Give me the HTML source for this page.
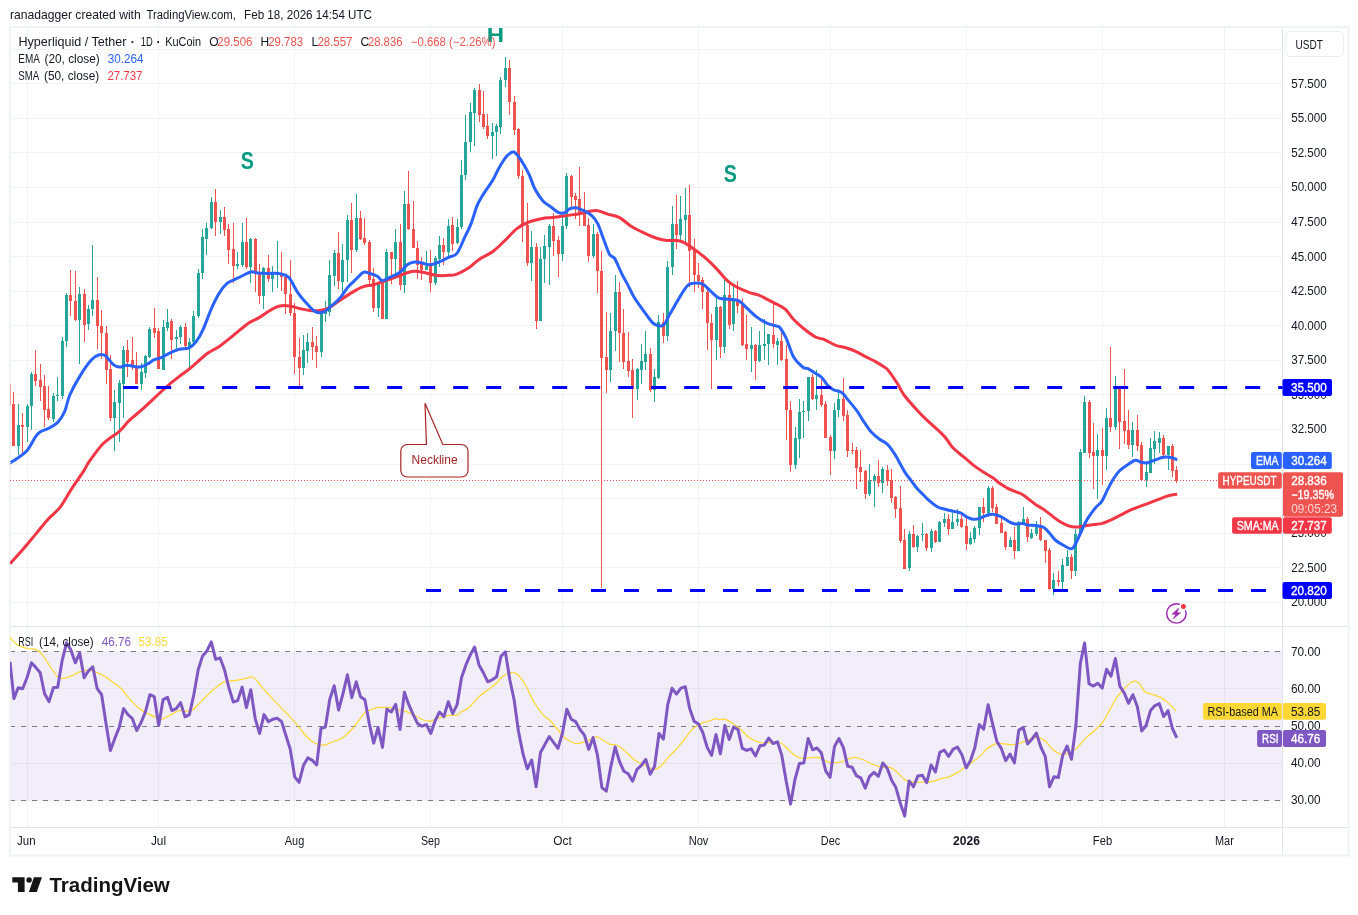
<!DOCTYPE html>
<html lang="en"><head><meta charset="utf-8"><title>HYPEUSDT chart</title><style>html,body{margin:0;padding:0;background:#fff}svg{display:block}</style></head><body>
<svg width="1358" height="915" viewBox="0 0 1358 915" font-family="'Liberation Sans', sans-serif" font-size="12" fill="#131722">
<rect width="1358" height="915" fill="#fff"/>
<defs><clipPath id="cm"><rect x="10" y="27" width="1272.5" height="599.5"/></clipPath><clipPath id="cr"><rect x="10" y="627" width="1272.5" height="200.5"/></clipPath></defs>
<path d="M27.5 27V827.5 M158.5 27V827.5 M294.5 27V827.5 M430.5 27V827.5 M562.5 27V827.5 M698.5 27V827.5 M830.5 27V827.5 M966.5 27V827.5 M1102.5 27V827.5 M1224.5 27V827.5 M10 49.5H1282.5 M10 83.5H1282.5 M10 118.5H1282.5 M10 152.5H1282.5 M10 187.5H1282.5 M10 222.5H1282.5 M10 256.5H1282.5 M10 291.5H1282.5 M10 325.5H1282.5 M10 360.5H1282.5 M10 394.5H1282.5 M10 429.5H1282.5 M10 464.5H1282.5 M10 498.5H1282.5 M10 533.5H1282.5 M10 567.5H1282.5 M10 602.5H1282.5 M10 688.5H1282.5 M10 763.5H1282.5" stroke="#f0f2f4" stroke-width="1" fill="none"/>
<rect x="10" y="651" width="1272.5" height="150" fill="#7e57c2" fill-opacity=".1"/>
<path d="M10 651.5H1282.5" stroke="#787b86" stroke-width="1" stroke-dasharray="5 6" fill="none"/>
<path d="M10 726.5H1282.5" stroke="#787b86" stroke-width="1" stroke-dasharray="5 6" fill="none"/>
<path d="M10 800.5H1282.5" stroke="#787b86" stroke-width="1" stroke-dasharray="5 6" fill="none"/>
<path d="M10 626.5H1348.5" stroke="#e0e3eb" stroke-width="1" fill="none"/>
<path d="M10 827.5H1348.5M1282.5 27V855.5" stroke="#e0e3eb" stroke-width="1" fill="none"/>
<rect x="10" y="27" width="1338.5" height="828.5" fill="none" stroke="#f1f2f4" stroke-width="2"/>
<g clip-path="url(#cm)">
<path d="M10.5 384V405" stroke="#ef5350" stroke-opacity=".5" stroke-width="1" fill="none"/>
<path d="M13.5 392V446M22.5 413V453M35.5 350V386M40.5 364V401M44.5 375V427M48.5 386V420M70.5 270V316M75.5 271V321M84.5 289V342M97.5 277V349M101.5 310V359M106.5 326V384M110.5 355V421M127.5 340V377M132.5 337V370M136.5 352V384M154.5 308V338M158.5 328V369M171.5 319V359M185.5 323V350M215.5 189V236M224.5 207V236M228.5 224V264M233.5 223V283M246.5 218V269M255.5 238V292M259.5 264V304M268.5 255V282M281.5 252V291M285.5 275V314M290.5 260V316M294.5 303V374M299.5 338V387M312.5 327V360M316.5 336V368M338.5 232V289M351.5 203V273M360.5 211V240M364.5 218V245M369.5 240V284M373.5 268V312M382.5 279V319M391.5 252V284M400.5 224V290M408.5 171V230M413.5 201V248M417.5 241V279M421.5 257V280M430.5 250V292M443.5 238V265M452.5 217V251M479.5 84V122M483.5 91V129M487.5 114V139M509.5 60V115M514.5 96V135M518.5 128V179M522.5 170V242M527.5 203V266M536.5 243V329M553.5 213V256M558.5 236V277M571.5 175V208M575.5 193V219M579.5 167V226M584.5 192V226M588.5 218V262M597.5 232V293M601.5 251V588M606.5 312V393M619.5 282V362M623.5 309V369M628.5 332V377M632.5 359V418M650.5 348V392M663.5 313V343M676.5 195V249M689.5 185V287M694.5 239V292M698.5 263V288M702.5 277V309M707.5 288V350M711.5 314V389M720.5 306V358M729.5 284V329M737.5 281V313M742.5 298V346M746.5 315V360M755.5 344V380M773.5 303V348M781.5 328V361M786.5 345V440M790.5 401V472M812.5 374V400M821.5 376V407M825.5 401V438M830.5 435V475M843.5 378V421M847.5 410V457M852.5 443V454M856.5 447V489M860.5 450V482M865.5 470V499M878.5 460V487M887.5 465V486M891.5 469V503M895.5 496V518M900.5 486V543M904.5 529V569M913.5 525V548M926.5 533V551M935.5 530V543M948.5 514V535M961.5 515V528M966.5 517V550M983.5 498V522M992.5 486V512M996.5 504V524M1001.5 517V533M1005.5 531V550M1014.5 527V559M1027.5 517V542M1040.5 517V541M1045.5 540V563M1049.5 548V590M1058.5 571V586M1071.5 554V579M1089.5 400V458M1093.5 423V489M1102.5 428V485M1110.5 347V432M1119.5 387V449M1124.5 369V444M1128.5 410V449M1137.5 415V451M1141.5 442V480M1163.5 435V459M1172.5 444V477M1176.5 466V483" stroke="#ef5350" stroke-width="1" fill="none"/>
<path d="M18.5 404V455M27.5 404V442M31.5 372V430M53.5 393V422M57.5 377V401M62.5 337V399M66.5 293V347M79.5 287V364M88.5 305V330M92.5 245V316M114.5 390V451M119.5 380V442M123.5 346V418M141.5 363V390M145.5 355V378M149.5 327V358M163.5 320V370M167.5 309V331M176.5 330V349M180.5 325V344M189.5 338V367M193.5 311V346M198.5 269V318M202.5 229V279M206.5 223V255M211.5 197V229M220.5 210V234M237.5 252V269M242.5 223V267M250.5 238V283M263.5 267V309M272.5 266V292M277.5 241V288M303.5 335V375M307.5 333V363M321.5 312V357M325.5 301V322M329.5 260V316M334.5 250V286M342.5 244V297M347.5 215V282M356.5 194V252M378.5 282V317M386.5 249V319M395.5 229V278M404.5 191V293M426.5 251V270M435.5 256V285M439.5 236V267M448.5 219V256M457.5 219V244M461.5 160V229M465.5 115V180M470.5 103V152M474.5 88V146M492.5 123V159M496.5 124V156M500.5 77V134M505.5 57V87M531.5 231V281M540.5 247V321M544.5 235V283M549.5 224V285M562.5 215V261M566.5 173V229M593.5 224V258M610.5 313V382M615.5 275V351M637.5 368V400M641.5 344V384M645.5 331V370M654.5 369V402M658.5 315V379M667.5 261V341M672.5 206V275M680.5 196V242M685.5 188V245M716.5 296V360M724.5 279V353M733.5 286V331M751.5 327V372M759.5 331V362M764.5 319V360M768.5 334V365M777.5 338V365M795.5 427V469M799.5 399V458M803.5 401V438M808.5 377V421M816.5 370V410M834.5 403V459M838.5 389V417M869.5 464V496M874.5 474V507M882.5 467V493M909.5 531V571M917.5 535V552M922.5 523V541M931.5 529V552M939.5 521V542M944.5 513V527M952.5 513V529M957.5 509V526M970.5 532V545M974.5 526V543M979.5 507V535M988.5 486V517M1010.5 537V547M1018.5 521V551M1023.5 507V524M1031.5 529V539M1036.5 521V536M1053.5 573V595M1062.5 559V590M1067.5 550V566M1075.5 529V576M1080.5 449V534M1084.5 396V453M1097.5 434V499M1106.5 408V470M1115.5 376V430M1132.5 422V457M1146.5 461V487M1150.5 438V473M1154.5 431V464M1159.5 432V453M1168.5 446V470" stroke="#26a69a" stroke-width="1" fill="none"/>
<path d="M12 404h3v42h-3zM21 425h3v2h-3zM34 374h3v7h-3zM39 380h3v7h-3zM43 386h3v24h-3zM47 409h3v9h-3zM69 295h3v6h-3zM74 301h3v19h-3zM83 294h3v31h-3zM96 300h3v26h-3zM100 326h3v7h-3zM105 333h3v37h-3zM109 369h3v49h-3zM126 350h3v12h-3zM131 360h3v7h-3zM135 366h3v18h-3zM153 328h3v5h-3zM157 331h3v38h-3zM170 321h3v19h-3zM184 327h3v19h-3zM214 202h3v20h-3zM223 217h3v13h-3zM227 229h3v21h-3zM232 249h3v17h-3zM245 242h3v25h-3zM254 239h3v35h-3zM258 273h3v23h-3zM267 268h3v11h-3zM280 273h3v4h-3zM284 277h3v17h-3zM289 294h3v19h-3zM293 313h3v44h-3zM298 357h3v11h-3zM311 342h3v5h-3zM315 346h3v6h-3zM337 253h3v28h-3zM350 220h3v30h-3zM359 218h3v21h-3zM363 238h3v5h-3zM368 242h3v38h-3zM372 279h3v29h-3zM381 283h3v36h-3zM390 252h3v7h-3zM399 242h3v43h-3zM407 204h3v25h-3zM412 229h3v19h-3zM416 248h3v17h-3zM420 264h3v6h-3zM429 266h3v17h-3zM442 245h3v7h-3zM451 225h3v19h-3zM478 90h3v25h-3zM482 114h3v13h-3zM486 126h3v10h-3zM508 68h3v34h-3zM513 102h3v28h-3zM517 129h3v47h-3zM521 176h3v50h-3zM526 225h3v38h-3zM535 247h3v74h-3zM552 226h3v15h-3zM557 240h3v14h-3zM570 176h3v21h-3zM574 196h3v4h-3zM578 199h3v15h-3zM583 212h3v14h-3zM587 225h3v31h-3zM596 234h3v37h-3zM600 271h3v87h-3zM605 357h3v13h-3zM618 292h3v41h-3zM622 333h3v29h-3zM627 361h3v10h-3zM631 370h3v19h-3zM649 354h3v36h-3zM662 322h3v14h-3zM675 224h3v11h-3zM688 215h3v36h-3zM693 249h3v26h-3zM697 275h3v6h-3zM701 280h3v12h-3zM706 292h3v31h-3zM710 323h3v17h-3zM719 307h3v40h-3zM728 295h3v30h-3zM736 300h3v6h-3zM741 305h3v40h-3zM745 344h3v5h-3zM754 345h3v16h-3zM772 335h3v9h-3zM780 341h3v19h-3zM785 359h3v51h-3zM789 410h3v55h-3zM811 377h3v22h-3zM820 395h3v10h-3zM824 404h3v34h-3zM829 437h3v14h-3zM842 399h3v17h-3zM846 415h3v36h-3zM851 450h3v1h-3zM855 450h3v18h-3zM859 467h3v5h-3zM864 471h3v23h-3zM877 476h3v7h-3zM886 470h3v11h-3zM890 480h3v18h-3zM894 497h3v12h-3zM899 508h3v33h-3zM903 540h3v29h-3zM912 534h3v13h-3zM925 534h3v14h-3zM934 531h3v11h-3zM947 519h3v10h-3zM960 519h3v8h-3zM965 526h3v18h-3zM982 507h3v6h-3zM991 488h3v20h-3zM995 507h3v17h-3zM1000 523h3v10h-3zM1004 532h3v15h-3zM1013 540h3v11h-3zM1026 519h3v18h-3zM1039 525h3v15h-3zM1044 540h3v11h-3zM1048 550h3v39h-3zM1057 580h3v2h-3zM1070 557h3v14h-3zM1088 402h3v51h-3zM1092 452h3v4h-3zM1101 450h3v6h-3zM1109 418h3v9h-3zM1118 387h3v35h-3zM1123 421h3v10h-3zM1127 430h3v15h-3zM1136 430h3v16h-3zM1140 445h3v35h-3zM1162 438h3v17h-3zM1171 446h3v25h-3zM1175 470h3v11h-3z" fill="#ef5350"/>
<path d="M17 425h3v21h-3zM26 406h3v21h-3zM30 374h3v32h-3zM52 396h3v23h-3zM56 395h3v1h-3zM61 341h3v55h-3zM65 295h3v46h-3zM78 294h3v26h-3zM87 309h3v15h-3zM91 300h3v9h-3zM113 402h3v16h-3zM118 383h3v20h-3zM122 350h3v34h-3zM140 372h3v12h-3zM144 356h3v17h-3zM148 329h3v28h-3zM162 327h3v43h-3zM166 322h3v6h-3zM175 337h3v2h-3zM179 327h3v10h-3zM188 342h3v5h-3zM192 316h3v26h-3zM197 273h3v43h-3zM201 237h3v36h-3zM205 228h3v11h-3zM210 202h3v26h-3zM219 217h3v5h-3zM236 264h3v2h-3zM241 242h3v23h-3zM249 239h3v28h-3zM262 268h3v28h-3zM271 273h3v6h-3zM276 273h3v2h-3zM302 350h3v18h-3zM306 342h3v9h-3zM320 313h3v39h-3zM324 312h3v2h-3zM328 275h3v37h-3zM333 253h3v23h-3zM341 260h3v22h-3zM346 220h3v40h-3zM355 218h3v32h-3zM377 283h3v25h-3zM385 252h3v67h-3zM394 242h3v17h-3zM403 204h3v81h-3zM425 266h3v4h-3zM434 258h3v25h-3zM438 245h3v14h-3zM447 226h3v26h-3zM456 227h3v16h-3zM460 175h3v52h-3zM464 142h3v33h-3zM469 112h3v30h-3zM473 90h3v23h-3zM491 132h3v4h-3zM495 126h3v6h-3zM499 80h3v47h-3zM504 68h3v12h-3zM530 247h3v16h-3zM539 259h3v62h-3zM543 246h3v13h-3zM548 226h3v21h-3zM561 226h3v28h-3zM565 176h3v50h-3zM592 234h3v22h-3zM609 331h3v39h-3zM614 292h3v39h-3zM636 369h3v20h-3zM640 361h3v9h-3zM644 354h3v8h-3zM653 377h3v13h-3zM657 322h3v56h-3zM666 267h3v69h-3zM671 224h3v43h-3zM679 219h3v16h-3zM684 215h3v5h-3zM715 307h3v33h-3zM723 295h3v52h-3zM732 300h3v24h-3zM750 345h3v4h-3zM758 345h3v16h-3zM763 344h3v2h-3zM767 334h3v10h-3zM776 341h3v4h-3zM794 438h3v27h-3zM798 412h3v27h-3zM802 411h3v1h-3zM807 377h3v34h-3zM815 395h3v4h-3zM833 410h3v41h-3zM837 399h3v11h-3zM868 480h3v14h-3zM873 476h3v5h-3zM881 469h3v14h-3zM908 534h3v34h-3zM916 536h3v11h-3zM921 534h3v1h-3zM930 531h3v17h-3zM938 522h3v20h-3zM943 519h3v4h-3zM951 522h3v7h-3zM956 519h3v3h-3zM969 538h3v6h-3zM973 528h3v11h-3zM978 507h3v21h-3zM987 488h3v25h-3zM1009 540h3v7h-3zM1017 522h3v29h-3zM1022 519h3v4h-3zM1030 533h3v5h-3zM1035 525h3v9h-3zM1052 580h3v9h-3zM1061 565h3v17h-3zM1066 557h3v9h-3zM1074 534h3v37h-3zM1079 452h3v82h-3zM1083 402h3v51h-3zM1096 450h3v6h-3zM1105 418h3v38h-3zM1114 387h3v40h-3zM1131 430h3v15h-3zM1145 472h3v8h-3zM1149 448h3v25h-3zM1153 441h3v8h-3zM1158 438h3v5h-3zM1167 446h3v9h-3z" fill="#26a69a"/>
<path d="M10 480.5H1282" stroke="#ef5350" stroke-width="1" stroke-dasharray="1 2" fill="none"/>
<path d="M10.1 563.7C12.4 561.1 19.8 553.1 24.1 548.1C28.4 543.1 32.1 538.4 36.1 533.6C40.1 528.8 44.1 523.6 48.1 519.2C52.1 514.8 56.2 512.4 60.2 507.2C64.2 502.0 68.3 493.9 72.2 487.9C76.1 481.9 80.7 475.6 83.6 471.1C86.5 466.7 86.2 465.8 89.5 461.2C92.9 456.5 98.5 448.2 103.5 443.3C108.4 438.3 115.1 435.1 119.4 431.3C123.7 427.5 125.3 424.2 129.3 420.4C133.3 416.6 138.3 412.9 143.3 408.4C148.2 404.0 154.9 397.5 159.2 393.5C163.5 389.5 165.8 387.4 169.1 384.6C172.4 381.7 175.4 379.4 179.1 376.6C182.7 373.8 186.4 371.5 191.0 367.6C195.6 363.8 202.3 357.2 206.9 353.7C211.6 350.2 214.6 349.7 218.9 346.8C223.2 343.8 227.8 339.8 232.8 335.8C237.8 331.8 244.4 325.9 248.7 322.9C253.0 319.9 255.1 320.0 258.7 317.9C262.2 315.8 266.4 312.5 269.9 310.5C273.4 308.5 276.5 306.7 279.8 306.0C283.2 305.2 286.5 305.5 289.8 306.0C293.1 306.4 296.4 307.8 299.7 308.5C303.1 309.3 306.4 310.2 309.7 310.5C313.0 310.9 316.3 311.0 319.6 310.5C323.0 310.0 326.3 309.2 329.6 307.5C332.9 305.9 335.6 303.2 339.5 300.6C343.5 297.9 349.5 293.9 353.5 291.6C357.4 289.3 360.1 287.8 363.4 286.7C366.7 285.5 369.7 285.7 373.4 284.7C377.0 283.7 381.3 282.0 385.3 280.7C389.3 279.4 393.6 278.0 397.2 276.7C400.9 275.4 404.2 273.6 407.2 272.7C410.2 271.8 412.2 271.3 415.1 271.3C418.1 271.3 422.1 272.2 425.1 272.7C428.1 273.3 430.4 274.2 433.0 274.7C435.7 275.2 438.4 275.6 441.0 275.7C443.7 275.8 446.3 275.6 449.0 275.3C451.6 275.0 453.6 275.4 456.9 274.1C460.2 272.9 465.2 270.2 468.9 267.8C472.6 265.3 475.0 262.1 479.1 259.4C483.1 256.7 488.7 254.6 493.0 251.5C497.3 248.3 501.0 244.3 504.9 240.5C508.9 236.7 512.9 231.7 516.9 228.6C520.9 225.5 524.2 223.8 528.8 222.0C533.5 220.3 540.9 218.8 544.7 218.0C548.6 217.3 548.4 218.0 551.9 217.6C555.5 217.3 561.2 216.3 565.9 215.7C570.5 215.0 575.8 214.4 579.8 213.7C583.8 212.9 586.8 211.8 589.7 211.3C592.7 210.8 594.7 210.2 597.7 210.7C600.7 211.1 604.0 212.9 607.6 214.1C611.3 215.2 615.6 215.6 619.6 217.6C623.6 219.7 627.2 223.9 631.5 226.6C635.8 229.3 641.1 231.6 645.5 233.6C649.8 235.6 653.7 237.4 657.4 238.5C661.0 239.7 664.0 240.2 667.3 240.5C670.7 240.9 674.3 240.1 677.3 240.5C680.3 241.0 681.9 241.3 685.2 243.1C688.6 244.9 693.5 248.8 697.2 251.5C700.8 254.2 703.8 256.4 707.1 259.4C710.4 262.4 713.8 265.9 717.1 269.4C720.4 272.9 723.7 277.3 727.0 280.3C730.3 283.3 733.3 285.3 737.0 287.3C740.6 289.3 745.3 290.9 748.9 292.3C752.6 293.6 755.5 293.9 758.9 295.2C762.2 296.6 765.5 298.6 768.8 300.2C772.1 301.9 775.9 303.6 778.8 305.2C781.6 306.8 783.4 307.5 786.0 309.9C788.5 312.3 790.9 316.7 793.9 319.8C796.9 323.0 800.2 325.9 803.9 328.8C807.5 331.7 812.5 335.4 815.8 337.2C819.1 338.9 820.5 338.0 823.8 339.3C827.1 340.7 832.1 343.9 835.7 345.3C839.4 346.7 842.3 346.7 845.7 347.7C849.0 348.7 852.3 349.8 855.6 351.3C858.9 352.8 862.2 354.9 865.6 356.7C868.9 358.4 872.5 360.0 875.5 361.6C878.5 363.3 881.3 365.1 883.5 366.6C885.6 368.1 886.1 367.8 888.4 370.6C890.8 373.4 894.7 379.4 897.4 383.5C900.0 387.7 901.0 391.0 904.4 395.5C907.7 399.9 913.5 406.2 917.3 410.4C921.1 414.5 923.9 417.2 927.2 420.3C930.6 423.5 934.2 426.5 937.2 429.3C940.2 432.1 942.5 434.1 945.1 437.2C947.8 440.3 950.1 444.8 953.1 448.0C956.1 451.1 959.7 453.5 963.0 456.3C966.4 459.1 969.7 462.3 973.0 464.9C976.3 467.5 979.6 469.7 982.9 471.8C986.3 474.0 990.2 476.0 992.9 477.8C995.5 479.6 996.5 481.1 998.9 482.8C1001.2 484.4 1004.2 486.3 1006.8 487.8C1009.5 489.2 1012.1 490.2 1014.8 491.3C1017.4 492.5 1020.5 493.5 1022.7 494.7C1024.9 495.9 1025.8 497.0 1028.0 498.7C1030.2 500.4 1033.3 502.8 1035.9 504.7C1038.6 506.5 1041.2 507.8 1043.9 509.6C1046.5 511.5 1049.2 513.6 1051.8 515.6C1054.5 517.6 1057.1 519.9 1059.8 521.6C1062.4 523.2 1065.1 524.6 1067.8 525.6C1070.4 526.5 1073.1 527.1 1075.7 527.1C1078.4 527.2 1080.7 526.4 1083.7 526.0C1086.7 525.5 1090.6 525.0 1093.6 524.6C1096.6 524.2 1098.9 524.2 1101.6 523.6C1104.2 522.9 1106.5 521.9 1109.5 520.6C1112.5 519.3 1115.8 517.4 1119.5 515.6C1123.1 513.8 1127.4 511.4 1131.4 509.6C1135.4 507.9 1139.4 506.6 1143.4 505.1C1147.3 503.6 1151.3 502.2 1155.3 500.7C1159.3 499.2 1163.6 497.2 1167.2 496.1C1170.9 495.0 1175.5 494.5 1177.2 494.1" stroke="#f23645" stroke-width="3" fill="none" stroke-linejoin="round"/>
<path d="M10.1 462.6C10.1 462.6 8.9 463.7 10.3 462.8C11.8 461.9 16.1 459.3 18.9 457.2C21.7 455.1 24.4 453.7 27.3 450.2C30.1 446.7 33.6 439.4 35.8 436.3C38.0 433.2 38.2 433.0 40.4 431.7C42.5 430.4 45.9 429.9 48.7 428.3C51.6 426.8 55.0 425.2 57.7 422.4C60.4 419.5 62.7 415.9 64.7 411.4C66.7 406.9 67.2 401.3 69.6 395.5C72.1 389.7 75.9 382.6 79.6 376.6C83.2 370.6 88.2 363.3 91.5 359.7C94.8 356.0 97.2 355.4 99.5 354.7C101.8 354.1 103.1 354.1 105.5 355.7C107.8 357.4 111.1 362.8 113.4 364.7C115.7 366.6 117.1 367.0 119.4 367.1C121.7 367.2 124.0 365.3 127.3 365.3C130.7 365.3 136.0 367.3 139.3 367.1C142.6 366.9 144.7 365.3 147.2 364.1C149.7 362.8 151.9 360.8 154.2 359.7C156.5 358.6 158.7 358.8 161.2 357.7C163.6 356.6 166.1 354.7 169.1 353.3C172.1 351.9 175.8 350.3 179.1 349.3C182.4 348.4 186.2 349.0 189.0 347.8C191.8 346.5 193.7 344.8 196.0 341.8C198.3 338.8 200.4 335.3 202.9 329.8C205.5 324.4 208.4 315.4 211.1 309.3C213.8 303.2 216.4 297.7 219.1 293.4C221.7 289.0 224.4 285.7 227.0 283.4C229.7 281.1 232.3 280.8 235.0 279.4C237.6 278.1 240.3 276.7 242.9 275.5C245.6 274.2 248.3 272.3 250.9 271.9C253.6 271.5 255.9 272.8 258.9 273.1C261.8 273.3 265.5 273.4 268.8 273.5C272.1 273.5 275.4 272.8 278.8 273.5C282.1 274.1 285.5 274.2 288.7 277.4C291.9 280.6 294.6 288.1 297.8 292.6C300.9 297.1 304.7 301.3 307.7 304.6C310.7 307.8 313.0 310.7 315.7 311.9C318.3 313.1 321.3 312.7 323.6 311.9C325.9 311.2 326.9 309.8 329.6 307.5C332.2 305.3 336.5 301.9 339.5 298.6C342.5 295.3 344.8 290.8 347.5 287.6C350.1 284.5 352.8 282.2 355.5 279.7C358.1 277.1 361.1 273.4 363.4 272.3C365.7 271.3 367.1 272.7 369.4 273.3C371.7 274.0 375.2 275.1 377.3 276.3C379.5 277.5 380.3 280.5 382.3 280.7C384.3 280.9 386.5 279.0 389.3 277.7C392.1 276.4 396.2 274.9 399.2 272.7C402.2 270.6 404.9 266.5 407.2 264.8C409.5 263.0 410.8 262.5 413.2 262.2C415.5 261.8 418.5 262.3 421.1 262.8C423.8 263.2 426.4 264.8 429.1 264.8C431.7 264.8 433.7 264.0 437.0 262.8C440.3 261.5 445.6 258.8 449.0 257.2C452.3 255.6 454.3 256.8 456.9 253.4C459.6 250.0 462.5 241.9 464.9 236.9C467.2 231.9 469.1 228.8 471.1 223.6C473.1 218.4 475.1 210.5 477.1 205.7C479.1 200.9 480.4 199.1 483.0 194.8C485.7 190.5 490.3 184.3 493.0 179.8C495.6 175.4 496.6 171.9 499.0 167.9C501.3 163.9 504.4 158.6 506.9 156.0C509.4 153.3 511.6 151.3 513.9 152.0C516.2 152.7 518.4 156.3 520.9 159.9C523.3 163.6 526.5 169.1 528.8 173.9C531.1 178.7 532.5 184.3 534.8 188.8C537.1 193.3 540.1 197.8 542.7 200.7C545.4 203.7 548.0 204.7 550.7 206.7C553.3 208.7 556.3 211.7 558.7 212.7C561.0 213.7 562.7 213.3 564.6 212.7C566.5 212.0 568.1 209.5 570.0 208.7C571.9 207.9 573.5 207.4 575.8 207.7C578.1 208.0 581.1 209.4 583.8 210.7C586.4 212.0 589.4 213.5 591.7 215.7C594.1 217.8 595.7 219.6 597.7 223.6C599.7 227.6 601.7 234.4 603.7 239.5C605.7 244.7 607.8 251.3 609.6 254.5C611.5 257.6 612.6 255.3 614.6 258.4C616.6 261.6 619.4 269.0 621.6 273.4C623.7 277.7 625.6 280.5 627.5 284.3C629.5 288.1 631.5 292.8 633.5 296.2C635.5 299.7 637.2 301.9 639.5 305.2C641.8 308.5 645.0 313.0 647.4 316.1C649.9 319.3 651.8 322.6 654.4 324.1C657.1 325.6 660.9 326.6 663.4 325.1C665.8 323.6 667.0 319.1 669.3 315.1C671.6 311.2 675.0 305.2 677.3 301.2C679.6 297.2 681.3 294.1 683.3 291.3C685.2 288.4 686.9 285.7 689.2 284.3C691.5 282.9 694.9 282.9 697.2 282.9C699.5 282.9 700.8 282.8 703.2 284.3C705.5 285.8 708.5 289.3 711.1 291.7C713.8 294.0 716.1 297.0 719.1 298.2C722.1 299.5 725.7 298.8 729.0 299.2C732.3 299.7 736.0 299.3 739.0 300.8C741.9 302.3 743.9 305.5 746.9 308.2C749.9 310.9 753.6 314.6 756.9 317.1C760.2 319.6 763.5 321.6 766.8 323.1C770.1 324.6 774.6 325.3 776.8 326.1C779.0 326.9 778.5 325.9 780.0 327.8C781.5 329.7 783.6 332.8 786.0 337.8C788.3 342.7 791.1 352.7 793.9 357.6C796.7 362.6 800.6 365.4 802.9 367.2C805.2 369.0 805.7 367.5 807.9 368.6C810.0 369.7 813.5 372.1 815.8 373.6C818.1 375.1 819.8 375.6 821.8 377.5C823.8 379.5 825.8 383.4 827.8 385.5C829.7 387.6 831.4 388.7 833.7 389.9C836.0 391.0 839.4 390.9 841.7 392.5C844.0 394.1 845.2 396.4 847.6 399.4C850.1 402.4 853.9 406.7 856.6 410.4C859.3 414.0 861.1 417.7 863.6 421.3C866.1 425.0 868.9 429.3 871.5 432.3C874.2 435.2 876.8 437.2 879.5 439.2C882.1 441.2 884.8 441.5 887.4 444.2C890.1 446.9 893.1 451.5 895.4 455.1C897.7 458.8 899.7 463.1 901.4 466.1C903.0 469.0 903.7 470.4 905.3 472.8C907.0 475.3 909.3 478.1 911.3 480.8C913.3 483.4 915.3 486.4 917.3 488.7C919.3 491.1 921.3 492.7 923.3 494.7C925.2 496.7 926.9 498.7 929.2 500.7C931.5 502.7 934.5 505.2 937.2 506.7C939.8 508.1 942.5 508.5 945.1 509.2C947.8 510.0 950.4 510.6 953.1 511.2C955.8 511.9 958.7 512.2 961.1 513.2C963.4 514.2 965.0 516.2 967.0 517.2C969.0 518.2 971.0 519.0 973.0 519.2C975.0 519.4 976.6 519.3 979.0 518.6C981.3 517.9 984.6 515.9 986.9 515.2C989.2 514.5 990.6 514.0 992.9 514.2C995.2 514.4 998.2 515.4 1000.9 516.6C1003.5 517.8 1006.5 520.3 1008.8 521.6C1011.1 522.8 1012.5 523.6 1014.8 524.0C1017.1 524.3 1020.5 523.4 1022.7 523.6C1024.9 523.8 1025.8 524.8 1028.0 525.2C1030.2 525.5 1033.3 525.2 1035.9 525.6C1038.6 526.0 1041.6 526.2 1043.9 527.5C1046.2 528.9 1047.9 531.4 1049.8 533.5C1051.8 535.7 1053.5 538.5 1055.8 540.5C1058.1 542.5 1061.1 544.1 1063.8 545.5C1066.4 546.8 1069.6 549.5 1071.7 548.8C1073.9 548.2 1075.0 544.5 1076.7 541.5C1078.4 538.4 1079.9 534.3 1081.7 530.5C1083.5 526.7 1085.3 522.4 1087.6 518.6C1090.0 514.8 1093.3 510.5 1095.6 507.6C1097.9 504.8 1099.6 504.7 1101.6 501.7C1103.6 498.7 1105.6 493.6 1107.5 489.7C1109.5 485.9 1111.5 481.9 1113.5 478.8C1115.5 475.6 1117.2 473.2 1119.5 470.8C1121.8 468.5 1124.8 466.6 1127.4 464.9C1130.1 463.1 1133.1 460.7 1135.4 460.3C1137.7 459.9 1139.4 461.9 1141.4 462.3C1143.4 462.7 1145.0 463.3 1147.3 462.9C1149.7 462.5 1152.6 460.8 1155.3 459.9C1157.9 459.0 1160.6 457.7 1163.3 457.3C1165.9 456.9 1168.9 457.1 1171.2 457.5C1173.5 457.9 1176.2 459.5 1177.2 459.9" stroke="#2962ff" stroke-width="3" fill="none" stroke-linejoin="round"/>
<path d="M123.2 387.5H1283" stroke="#0000ff" stroke-width="3" stroke-dasharray="15 18" fill="none"/>
<path d="M426 590.5H1283" stroke="#0000ff" stroke-width="3" stroke-dasharray="15 18" fill="none"/>
</g>
<g clip-path="url(#cr)">
<path d="M9.9 638.0C11.3 639.1 15.0 643.2 17.9 644.9C20.8 646.7 24.3 647.8 27.3 648.5C30.2 649.2 33.4 648.4 35.8 649.3C38.2 650.2 39.5 651.1 41.8 653.9C44.1 656.6 47.1 662.0 49.7 665.8C52.4 669.6 55.4 674.7 57.7 676.8C60.0 678.8 61.3 678.5 63.7 678.3C66.0 678.2 69.0 676.9 71.6 675.8C74.3 674.7 76.9 672.7 79.6 671.8C82.2 670.9 84.9 670.4 87.5 670.4C90.2 670.4 92.5 670.7 95.5 671.8C98.5 672.8 102.5 674.9 105.5 676.8C108.4 678.6 110.8 680.7 113.4 682.7C116.1 684.7 118.7 686.0 121.4 688.7C124.0 691.3 126.3 695.3 129.3 698.6C132.3 702.0 136.3 706.2 139.3 708.6C142.3 711.0 144.6 711.7 147.2 713.2C149.9 714.6 152.7 716.2 155.2 717.1C157.7 718.1 159.5 719.6 162.2 719.1C164.8 718.7 168.3 716.0 171.1 714.6C173.9 713.1 176.4 711.1 179.1 710.6C181.7 710.0 184.7 711.3 187.0 711.2C189.3 711.0 190.7 711.2 193.0 709.6C195.3 708.0 198.3 704.3 201.0 701.6C203.6 699.0 206.3 696.2 208.9 693.7C211.6 691.2 214.2 688.7 216.9 686.7C219.5 684.7 221.8 682.7 224.8 681.7C227.8 680.7 231.5 681.2 234.8 680.7C238.1 680.2 242.1 679.4 244.7 678.7C247.4 678.1 249.0 676.8 250.7 676.8C252.4 676.7 253.1 676.7 255.0 678.4C256.8 680.1 259.1 683.5 261.9 686.8C264.8 690.0 268.6 694.5 271.9 698.1C275.2 701.7 278.8 705.6 281.8 708.6C284.8 711.7 287.1 713.8 289.8 716.6C292.4 719.4 295.1 722.4 297.8 725.6C300.4 728.7 303.1 732.7 305.7 735.5C308.4 738.3 311.5 741.0 313.7 742.5C315.8 744.0 316.8 744.0 318.6 744.5C320.5 744.9 322.1 745.6 324.6 745.1C327.1 744.6 331.1 742.4 333.6 741.5C336.1 740.5 337.5 740.5 339.5 739.5C341.5 738.5 343.2 737.5 345.5 735.5C347.8 733.5 351.1 730.2 353.5 727.5C355.8 724.9 357.4 722.2 359.4 719.6C361.4 717.0 363.4 713.7 365.4 712.0C367.4 710.4 369.2 710.4 371.4 709.6C373.5 708.8 376.3 707.6 378.3 707.3C380.3 706.9 381.5 707.6 383.3 707.6C385.1 707.6 387.0 706.9 389.3 707.3C391.6 707.6 394.9 709.1 397.2 709.6C399.6 710.2 400.9 710.0 403.2 710.6C405.5 711.3 408.5 712.4 411.2 713.6C413.8 714.9 416.1 716.9 419.1 718.2C422.1 719.5 426.1 721.1 429.1 721.2C432.1 721.2 434.0 719.5 437.0 718.6C440.0 717.7 443.7 716.2 447.0 715.6C450.3 715.0 454.6 715.8 456.9 715.2C459.2 714.6 458.9 713.3 460.9 712.0C462.9 710.8 465.9 710.2 468.9 707.6C471.8 705.1 475.5 699.8 478.8 696.7C482.1 693.7 485.8 691.7 488.8 689.3C491.7 687.0 494.8 684.5 496.7 682.8C498.6 681.0 498.5 680.2 500.0 678.8C501.5 677.4 503.8 675.3 506.0 674.2C508.1 673.2 510.9 672.3 512.9 672.4C514.9 672.5 515.8 672.6 517.9 674.8C520.1 677.0 523.2 681.3 525.9 685.8C528.5 690.2 530.8 696.7 533.8 701.7C536.8 706.7 541.1 712.5 543.8 715.6C546.4 718.7 547.4 717.9 549.7 720.2C552.1 722.5 555.0 726.5 557.7 729.5C560.4 732.6 562.7 736.2 565.7 738.5C568.6 740.8 572.6 742.9 575.6 743.5C578.6 744.1 580.9 742.8 583.6 742.1C586.2 741.3 589.3 739.9 591.5 739.1C593.7 738.2 594.9 736.7 596.9 736.9C598.9 737.1 601.4 739.3 603.5 740.5C605.6 741.7 607.1 743.2 609.4 744.1C611.8 744.9 614.7 744.2 617.4 745.5C620.0 746.7 622.4 748.9 625.3 751.4C628.3 753.9 632.0 758.1 635.3 760.4C638.6 762.7 642.1 763.9 645.2 765.3C648.4 766.8 651.5 769.3 654.2 769.3C656.9 769.4 658.7 767.9 661.2 765.7C663.6 763.6 666.5 759.3 669.1 756.4C671.8 753.5 674.4 751.4 677.1 748.4C679.7 745.5 682.4 741.8 685.0 738.5C687.7 735.2 690.3 731.0 693.0 728.5C695.6 726.1 698.3 724.8 701.0 723.6C703.6 722.3 706.6 722.0 708.9 721.2C711.2 720.3 713.2 718.9 714.9 718.6C716.5 718.3 717.2 719.5 718.9 719.6C720.5 719.7 722.5 718.5 724.8 719.2C727.2 719.9 730.1 721.8 732.8 723.6C735.4 725.3 738.4 727.5 740.7 729.5C743.1 731.5 745.2 734.1 746.7 735.5C748.3 736.9 748.1 737.0 750.0 738.1C751.9 739.2 755.0 741.3 758.0 742.1C760.9 742.9 764.3 742.8 767.9 742.9C771.6 742.9 776.5 741.4 779.8 742.5C783.2 743.5 785.2 746.8 787.8 749.0C790.5 751.3 793.1 754.4 795.8 756.0C798.4 757.6 800.1 758.2 803.7 758.4C807.4 758.6 813.3 756.7 817.6 757.4C822.0 758.1 825.6 761.6 829.6 762.4C833.6 763.1 837.9 762.5 841.5 761.8C845.2 761.0 848.8 758.5 851.5 757.8C854.1 757.1 855.5 757.5 857.4 757.8C859.4 758.1 861.1 758.8 863.4 759.8C865.7 760.8 868.4 762.5 871.4 763.8C874.4 765.0 878.2 766.7 881.3 767.3C884.5 767.9 887.6 766.5 890.3 767.3C892.9 768.2 894.7 770.2 897.2 772.3C899.7 774.4 902.2 778.2 905.2 779.9C908.2 781.5 911.8 781.9 915.1 782.3C918.5 782.6 922.1 782.0 925.1 781.9C928.1 781.7 930.4 781.8 933.0 781.3C935.7 780.7 938.4 779.4 941.0 778.7C943.7 777.9 946.3 777.8 949.0 776.9C951.6 775.9 954.3 774.5 956.9 772.9C959.6 771.3 962.2 769.2 964.9 767.3C967.5 765.5 970.2 763.8 972.8 761.8C975.5 759.8 978.5 757.5 980.8 755.4C983.1 753.3 984.4 750.9 986.8 749.0C989.1 747.1 992.5 745.0 994.7 744.1C996.9 743.1 997.8 743.4 1000.0 743.4C1002.2 743.5 1005.3 744.2 1008.0 744.4C1010.6 744.6 1012.9 745.0 1015.9 744.4C1018.9 743.8 1022.5 742.0 1025.9 740.8C1029.2 739.7 1032.7 737.5 1035.8 737.4C1039.0 737.4 1042.1 738.6 1044.8 740.4C1047.4 742.2 1049.2 746.2 1051.7 748.4C1054.2 750.6 1056.7 753.0 1059.7 753.8C1062.7 754.5 1066.7 754.0 1069.6 753.0C1072.6 751.9 1074.9 749.8 1077.6 747.4C1080.2 745.0 1082.9 741.1 1085.6 738.4C1088.2 735.8 1090.7 734.1 1093.5 731.5C1096.3 728.8 1099.8 726.0 1102.5 722.5C1105.1 719.0 1106.9 714.9 1109.4 710.6C1111.9 706.3 1114.7 700.5 1117.4 696.7C1120.0 692.8 1123.0 690.1 1125.3 687.7C1127.7 685.3 1129.5 683.4 1131.3 682.3C1133.1 681.3 1134.8 680.9 1136.3 681.3C1137.8 681.7 1138.8 682.9 1140.3 684.7C1141.8 686.5 1143.1 690.4 1145.2 692.1C1147.4 693.7 1150.6 693.7 1153.2 694.7C1155.9 695.6 1158.5 696.2 1161.2 697.6C1163.8 699.1 1166.6 701.4 1169.1 703.6C1171.6 705.9 1174.9 709.9 1176.1 711.2" stroke="#fdd835" stroke-width="1.25" fill="none" stroke-linejoin="round"/>
<path d="M10.0 661.8 L13.9 698.6 L18.2 687.7 L22.6 688.7 L27.0 677.8 L31.4 662.8 L35.8 667.4 L40.2 672.8 L44.6 693.7 L49.0 701.6 L53.4 687.7 L57.7 687.3 L62.1 660.8 L66.5 642.9 L70.9 649.9 L75.3 662.8 L79.7 652.9 L84.1 677.8 L88.5 670.8 L92.8 666.8 L97.2 688.7 L101.6 694.7 L106.0 723.5 L110.4 750.4 L114.8 738.4 L119.2 727.5 L123.6 708.6 L128.0 714.6 L132.3 718.5 L136.7 730.5 L141.1 722.5 L145.5 711.6 L149.9 694.7 L154.3 696.7 L158.7 725.5 L163.1 699.6 L167.5 697.3 L171.8 710.6 L176.2 708.6 L180.6 702.6 L185.0 716.9 L189.4 714.6 L193.8 694.7 L198.2 669.8 L202.6 655.9 L206.9 650.9 L211.3 641.9 L215.7 659.4 L220.1 657.9 L224.5 669.8 L228.9 687.7 L233.3 702.0 L237.7 700.6 L242.1 687.1 L246.4 707.6 L250.8 689.7 L255.2 718.6 L259.6 733.5 L264.0 714.6 L268.4 721.6 L272.8 719.2 L277.2 718.2 L281.6 721.6 L285.9 735.5 L290.3 749.4 L294.7 776.9 L299.1 782.3 L303.5 765.3 L307.9 757.8 L312.3 760.4 L316.7 765.0 L321.0 728.5 L325.4 727.1 L329.8 699.3 L334.2 685.8 L338.6 710.0 L343.0 693.7 L347.4 674.8 L351.8 697.7 L356.2 681.8 L360.5 696.7 L364.9 699.7 L369.3 723.6 L373.7 743.1 L378.1 727.5 L382.5 747.4 L386.9 709.2 L391.3 712.0 L395.7 704.3 L400.0 729.5 L404.4 692.3 L408.8 704.7 L413.2 714.6 L417.6 723.6 L422.0 726.2 L426.4 724.6 L430.8 733.5 L435.2 720.6 L439.5 712.0 L443.9 716.6 L448.3 701.7 L452.7 713.6 L457.1 704.7 L461.5 677.8 L465.9 664.9 L470.3 654.9 L474.6 647.0 L479.0 664.9 L483.4 672.8 L487.8 681.8 L492.2 679.8 L496.6 676.8 L501.0 656.3 L505.4 651.9 L509.8 679.8 L514.1 699.7 L518.5 731.5 L522.9 753.4 L527.3 768.9 L531.7 760.0 L536.1 786.8 L540.5 752.4 L544.9 744.5 L549.3 736.5 L553.6 742.5 L558.0 748.4 L562.4 733.5 L566.8 709.2 L571.2 719.2 L575.6 721.6 L580.0 729.5 L584.4 735.1 L588.7 749.4 L593.1 737.5 L597.5 755.4 L601.9 787.6 L606.3 791.2 L610.7 767.3 L615.1 747.0 L619.5 761.4 L623.9 771.3 L628.2 773.7 L632.6 781.3 L637.0 769.3 L641.4 765.3 L645.8 759.4 L650.2 774.3 L654.6 766.3 L659.0 733.5 L663.4 739.1 L667.7 704.7 L672.1 688.3 L676.5 694.1 L680.9 688.1 L685.3 686.8 L689.7 708.6 L694.1 721.2 L698.5 724.0 L702.8 732.5 L707.2 747.4 L711.6 755.4 L716.0 734.5 L720.4 753.8 L724.8 725.6 L729.2 739.5 L733.6 727.1 L738.0 729.5 L742.3 748.4 L746.7 750.4 L751.1 748.8 L755.5 756.0 L759.9 745.8 L764.3 745.1 L768.7 738.1 L773.1 743.5 L777.5 741.9 L781.8 755.4 L786.2 781.3 L790.6 804.1 L795.0 779.3 L799.4 763.4 L803.8 763.0 L808.2 738.5 L812.6 749.8 L816.9 748.0 L821.3 752.8 L825.7 770.9 L830.1 777.3 L834.5 746.4 L838.9 738.5 L843.3 747.4 L847.7 766.3 L852.1 767.3 L856.4 775.7 L860.8 777.9 L865.2 788.2 L869.6 776.3 L874.0 772.3 L878.4 776.3 L882.8 763.0 L887.2 768.3 L891.6 780.3 L895.9 787.6 L900.3 803.2 L904.7 816.1 L909.1 780.9 L913.5 786.8 L917.9 775.9 L922.3 775.3 L926.7 782.7 L931.1 765.0 L935.4 771.9 L939.8 752.4 L944.2 750.0 L948.6 756.4 L953.0 749.4 L957.4 747.0 L961.8 754.4 L966.2 767.9 L970.5 760.4 L974.9 747.4 L979.3 724.6 L983.7 729.1 L988.1 704.7 L992.5 723.6 L996.9 741.5 L1001.3 748.4 L1005.7 760.7 L1010.0 754.0 L1014.4 762.9 L1018.8 730.1 L1023.2 727.5 L1027.6 744.0 L1032.0 739.0 L1036.4 733.1 L1040.8 747.0 L1045.2 756.3 L1049.5 786.8 L1053.9 776.8 L1058.3 777.6 L1062.7 755.3 L1067.1 746.0 L1071.5 759.3 L1075.9 725.5 L1080.3 663.8 L1084.6 642.9 L1089.0 683.7 L1093.4 686.1 L1097.8 683.3 L1102.2 688.1 L1106.6 669.2 L1111.0 676.2 L1115.4 658.5 L1119.8 686.1 L1124.1 692.7 L1128.5 703.2 L1132.9 694.7 L1137.3 706.6 L1141.7 731.1 L1146.1 725.5 L1150.5 710.6 L1154.9 705.6 L1159.3 703.6 L1163.6 716.5 L1168.0 710.6 L1172.4 728.5 L1176.8 737.8" stroke="#7e57c2" stroke-width="3" fill="none" stroke-linejoin="round"/>
</g>
<g font-weight="bold" fill="#089981" text-anchor="middle">
<text transform="translate(247.2 168.8) scale(.82 1)" font-size="24">S</text>
<text transform="translate(495.4 42) scale(1.17 1)" font-size="20.5">H</text>
<text transform="translate(730.4 181.9) scale(.82 1)" font-size="24">S</text></g>
<path d="M407.3 444.5H426.4L425 403.3L442.8 444.5H461.5a6.5 6.5 0 0 1 6.5 6.5V470.5a6.5 6.5 0 0 1 -6.5 6.5H407.3a6.5 6.5 0 0 1 -6.5 -6.5V451a6.5 6.5 0 0 1 6.5 -6.5z" fill="#fff" fill-opacity=".7" stroke="#a52323" stroke-width="1.2"/>
<text x="434.6" y="464" text-anchor="middle" fill="#a52323" textLength="46" lengthAdjust="spacingAndGlyphs">Neckline</text>
<circle cx="1176.4" cy="613.4" r="9.7" fill="none" stroke="#9c27b0" stroke-width="1.45"/>
<circle cx="1183.4" cy="606.5" r="4.3" fill="#fff"/><circle cx="1183.4" cy="606.5" r="2.5" fill="#f23645"/>
<path d="M1178.8 608L1171.9 614.2H1175.8L1173 618.9L1180.7 612.8H1177z" fill="#9c27b0" stroke="#9c27b0" stroke-width=".5" stroke-linejoin="round"/>
<g font-size="13">
<text x="10" y="19" textLength="130.7" lengthAdjust="spacingAndGlyphs">ranadagger created with</text>
<text x="146.5" y="19" textLength="89.4" lengthAdjust="spacingAndGlyphs">TradingView.com,</text>
<text x="244.1" y="19" textLength="127.9" lengthAdjust="spacingAndGlyphs">Feb 18, 2026 14:54 UTC</text>
</g>
<text x="18.4" y="45.5" textLength="108" lengthAdjust="spacingAndGlyphs">Hyperliquid / Tether</text>
<text x="132.7" y="45.5" text-anchor="middle" font-weight="bold">·</text>
<text x="140.7" y="45.5" textLength="12" lengthAdjust="spacingAndGlyphs">1D</text>
<text x="158.6" y="45.5" text-anchor="middle" font-weight="bold">·</text>
<text x="165.2" y="45.5" textLength="35.8" lengthAdjust="spacingAndGlyphs">KuCoin</text>
<text x="209.2" y="45.5">O</text>
<text x="217.3" y="45.5" textLength="35.1" lengthAdjust="spacingAndGlyphs" fill="#ef5350">29.506</text>
<text x="260.5" y="45.5">H</text>
<text x="268.3" y="45.5" textLength="34.8" lengthAdjust="spacingAndGlyphs" fill="#ef5350">29.783</text>
<text x="311.5" y="45.5">L</text>
<text x="317.4" y="45.5" textLength="35.1" lengthAdjust="spacingAndGlyphs" fill="#ef5350">28.557</text>
<text x="360.6" y="45.5">C</text>
<text x="367.9" y="45.5" textLength="34.6" lengthAdjust="spacingAndGlyphs" fill="#ef5350">28.836</text>
<text x="410.8" y="45.5" textLength="84.7" lengthAdjust="spacingAndGlyphs" fill="#ef5350">−0.668 (−2.26%)</text>
<text x="18.3" y="62.5" textLength="21.6" lengthAdjust="spacingAndGlyphs">EMA</text>
<text x="44.5" y="62.5" textLength="55.2" lengthAdjust="spacingAndGlyphs">(20, close)</text>
<text x="107.7" y="62.5" textLength="35.8" lengthAdjust="spacingAndGlyphs" fill="#2962ff">30.264</text>
<text x="18.3" y="79.5" textLength="20.9" lengthAdjust="spacingAndGlyphs">SMA</text>
<text x="44" y="79.5" textLength="55.2" lengthAdjust="spacingAndGlyphs">(50, close)</text>
<text x="107.4" y="79.5" textLength="35.1" lengthAdjust="spacingAndGlyphs" fill="#f23645">27.737</text>
<text x="18.2" y="645.8" textLength="15" lengthAdjust="spacingAndGlyphs">RSI</text>
<text x="39.1" y="645.8" textLength="54.6" lengthAdjust="spacingAndGlyphs">(14, close)</text>
<text x="101.8" y="645.8" textLength="29.2" lengthAdjust="spacingAndGlyphs" fill="#7e57c2">46.76</text>
<text x="138.6" y="645.8" textLength="29.2" lengthAdjust="spacingAndGlyphs" fill="#fdd835">53.85</text>
<text x="1291.2" y="88" textLength="35.5" lengthAdjust="spacingAndGlyphs" font-size="12.5">57.500</text>
<text x="1291.2" y="122" textLength="35.5" lengthAdjust="spacingAndGlyphs" font-size="12.5">55.000</text>
<text x="1291.2" y="157" textLength="35.5" lengthAdjust="spacingAndGlyphs" font-size="12.5">52.500</text>
<text x="1291.2" y="191" textLength="35.5" lengthAdjust="spacingAndGlyphs" font-size="12.5">50.000</text>
<text x="1291.2" y="226" textLength="35.5" lengthAdjust="spacingAndGlyphs" font-size="12.5">47.500</text>
<text x="1291.2" y="261" textLength="35.5" lengthAdjust="spacingAndGlyphs" font-size="12.5">45.000</text>
<text x="1291.2" y="295" textLength="35.5" lengthAdjust="spacingAndGlyphs" font-size="12.5">42.500</text>
<text x="1291.2" y="330" textLength="35.5" lengthAdjust="spacingAndGlyphs" font-size="12.5">40.000</text>
<text x="1291.2" y="364" textLength="35.5" lengthAdjust="spacingAndGlyphs" font-size="12.5">37.500</text>
<text x="1291.2" y="399" textLength="35.5" lengthAdjust="spacingAndGlyphs" font-size="12.5">35.000</text>
<text x="1291.2" y="433" textLength="35.5" lengthAdjust="spacingAndGlyphs" font-size="12.5">32.500</text>
<text x="1291.2" y="468" textLength="35.5" lengthAdjust="spacingAndGlyphs" font-size="12.5">30.000</text>
<text x="1291.2" y="503" textLength="35.5" lengthAdjust="spacingAndGlyphs" font-size="12.5">27.500</text>
<text x="1291.2" y="537" textLength="35.5" lengthAdjust="spacingAndGlyphs" font-size="12.5">25.000</text>
<text x="1291.2" y="572" textLength="35.5" lengthAdjust="spacingAndGlyphs" font-size="12.5">22.500</text>
<text x="1291.2" y="606" textLength="35.5" lengthAdjust="spacingAndGlyphs" font-size="12.5">20.000</text>
<text x="1291" y="656" textLength="29.5" lengthAdjust="spacingAndGlyphs" font-size="12.5">70.00</text>
<text x="1291" y="693" textLength="29.5" lengthAdjust="spacingAndGlyphs" font-size="12.5">60.00</text>
<text x="1291" y="730" textLength="29.5" lengthAdjust="spacingAndGlyphs" font-size="12.5">50.00</text>
<text x="1291" y="767" textLength="29.5" lengthAdjust="spacingAndGlyphs" font-size="12.5">40.00</text>
<text x="1291" y="804" textLength="29.5" lengthAdjust="spacingAndGlyphs" font-size="12.5">30.00</text>
<text x="26.3" y="845" textLength="18.6" lengthAdjust="spacingAndGlyphs" text-anchor="middle">Jun</text>
<text x="158.5" y="845" textLength="15.2" lengthAdjust="spacingAndGlyphs" text-anchor="middle">Jul</text>
<text x="294.5" y="845" textLength="19.5" lengthAdjust="spacingAndGlyphs" text-anchor="middle">Aug</text>
<text x="430.5" y="845" textLength="19" lengthAdjust="spacingAndGlyphs" text-anchor="middle">Sep</text>
<text x="562.5" y="845" textLength="18.5" lengthAdjust="spacingAndGlyphs" text-anchor="middle">Oct</text>
<text x="698.5" y="845" textLength="19.7" lengthAdjust="spacingAndGlyphs" text-anchor="middle">Nov</text>
<text x="830.5" y="845" textLength="19.3" lengthAdjust="spacingAndGlyphs" text-anchor="middle">Dec</text>
<text x="966.5" y="845" textLength="26.8" lengthAdjust="spacingAndGlyphs" text-anchor="middle" font-weight="bold">2026</text>
<text x="1102.5" y="845" textLength="19.3" lengthAdjust="spacingAndGlyphs" text-anchor="middle">Feb</text>
<text x="1224.4" y="845" textLength="18.8" lengthAdjust="spacingAndGlyphs" text-anchor="middle">Mar</text>
<rect x="1286" y="31.5" width="57.5" height="25" rx="4" fill="#fff" stroke="#eceef2" stroke-width="1"/>
<text x="1295.5" y="48.6" textLength="27.3" lengthAdjust="spacingAndGlyphs">USDT</text>
<rect x="1282.5" y="379" width="49.5" height="17" rx="2" fill="#0000ff"/>
<text x="1291.1" y="392.1" textLength="35.7" lengthAdjust="spacingAndGlyphs" fill="#fff" stroke="#fff" stroke-width=".35">35.500</text>
<rect x="1282.5" y="582" width="49.5" height="17" rx="2" fill="#0000ff"/>
<text x="1291.1" y="595.1" textLength="35.7" lengthAdjust="spacingAndGlyphs" fill="#fff" stroke="#fff" stroke-width=".35">20.820</text>
<rect x="1251" y="452.1" width="30.8" height="16.8" rx="2" fill="#2962ff"/>
<text x="1256" y="464.6" textLength="22.5" lengthAdjust="spacingAndGlyphs" fill="#fff" stroke="#fff" stroke-width=".35">EMA</text>
<rect x="1283" y="452.1" width="48.8" height="16.8" rx="2" fill="#2962ff"/>
<text x="1291.2" y="464.6" textLength="35.6" lengthAdjust="spacingAndGlyphs" fill="#fff" stroke="#fff" stroke-width=".35">30.264</text>
<rect x="1218.1" y="472.2" width="63.7" height="16.5" rx="2" fill="#ef5350"/>
<text x="1222.5" y="484.8" textLength="54" lengthAdjust="spacingAndGlyphs" fill="#fff" stroke="#fff" stroke-width=".35">HYPEUSDT</text>
<rect x="1283" y="472.2" width="60" height="44.6" rx="2" fill="#ef5350"/>
<text x="1291.2" y="484.8" textLength="35.6" lengthAdjust="spacingAndGlyphs" fill="#fff" stroke="#fff" stroke-width=".35">28.836</text>
<text x="1291.2" y="499" textLength="42.9" lengthAdjust="spacingAndGlyphs" fill="#fff" stroke="#fff" stroke-width=".35">−19.35%</text>
<text x="1291.2" y="513" textLength="46" lengthAdjust="spacingAndGlyphs" fill="#fff" fill-opacity=".75">09:05:23</text>
<rect x="1232.1" y="517.2" width="49.7" height="16.6" rx="2" fill="#f23645"/>
<text x="1236.8" y="530" textLength="41.7" lengthAdjust="spacingAndGlyphs" fill="#fff" stroke="#fff" stroke-width=".35">SMA:MA</text>
<rect x="1283" y="517.2" width="48.8" height="16.6" rx="2" fill="#f23645"/>
<text x="1291.2" y="530" textLength="35.6" lengthAdjust="spacingAndGlyphs" fill="#fff" stroke="#fff" stroke-width=".35">27.737</text>
<rect x="1203.1" y="703" width="78.9" height="16.8" rx="2" fill="#fdd835"/>
<text x="1207.5" y="715.6" textLength="70.5" lengthAdjust="spacingAndGlyphs">RSI-based MA</text>
<rect x="1283" y="703" width="43" height="16.8" rx="2" fill="#fdd835"/>
<text x="1291" y="715.6" textLength="29.4" lengthAdjust="spacingAndGlyphs">53.85</text>
<rect x="1257.1" y="730" width="24.9" height="17" rx="2" fill="#7e57c2"/>
<text x="1262" y="742.6" textLength="16.5" lengthAdjust="spacingAndGlyphs" fill="#fff" stroke="#fff" stroke-width=".35">RSI</text>
<rect x="1283" y="730" width="43" height="17" rx="2" fill="#7e57c2"/>
<text x="1291" y="742.6" textLength="29.4" lengthAdjust="spacingAndGlyphs" fill="#fff" stroke="#fff" stroke-width=".35">46.76</text>
<g fill="#141414"><path d="M12.3 877.2H24.6V891.9H17.9V882.6H12.3z"/><circle cx="29.1" cy="880" r="2.75"/><path d="M33.9 877.2H41.9L36.8 891.9H28.9z"/></g>
<text x="49.4" y="891.9" textLength="120.4" lengthAdjust="spacingAndGlyphs" fill="#141414" font-size="20.5" font-weight="bold">TradingView</text>
</svg>
</body></html>
